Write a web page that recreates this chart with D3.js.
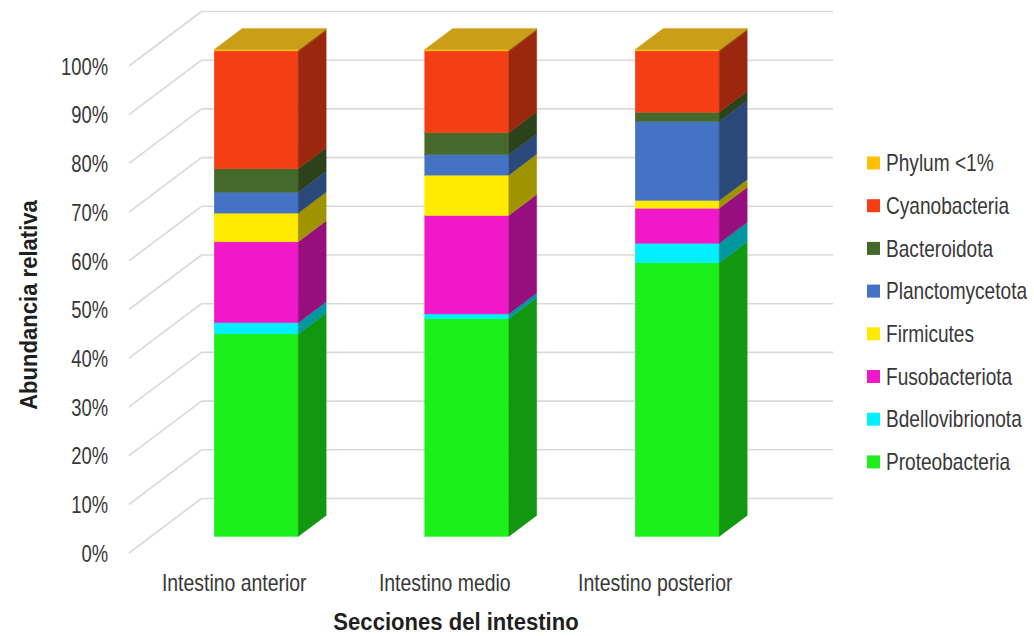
<!DOCTYPE html>
<html>
<head>
<meta charset="utf-8">
<script src="https://cdn.jsdelivr.net/npm/d3@7"></script>
<style>
  body { margin: 0; background: #ffffff; }
  svg { display: block; }
  text { font-family: "Liberation Sans", Arial, Helvetica, sans-serif; }
</style>
</head>
<body>
<svg id="chart" width="1034" height="636"></svg>
<script>
// Relative abundance (%) of bacterial phyla per intestinal section
const categories = ["Intestino anterior", "Intestino medio", "Intestino posterior"];

const proteobacteria   = [41.6, 44.7, 56.2];
const bdellovibrionota = [2.3, 1.0, 4.0];
const fusobacteriota   = [16.6, 20.2, 7.2];
const firmicutes       = [5.9, 8.3, 1.6];
const planctomycetota  = [4.3, 4.2, 16.2];
const bacteroidota     = [4.8, 4.5, 1.9];
const cyanobacteria    = [24.2, 16.8, 12.6];
const phylumMenor1     = [0.3, 0.3, 0.3];

// Stack order, bottom to top
const seriesNames = ["Proteobacteria", "Bdellovibrionota", "Fusobacteriota", "Firmicutes",
                     "Planctomycetota", "Bacteroidota", "Cyanobacteria", "Phylum <1%"];
const seriesValues = [proteobacteria, bdellovibrionota, fusobacteriota, firmicutes,
                      planctomycetota, bacteroidota, cyanobacteria, phylumMenor1];
const seriesColors = ["#1cf01a", "#00f0ff", "#f018c8", "#ffea00",
                      "#4472c4", "#44692a", "#f63e14", "#ffc000"];

const yTicks = [0, 10, 20, 30, 40, 50, 60, 70, 80, 90, 100];
const yTickLabels = yTicks.map(d => d + "%");

const xTitle = "Secciones del intestino";
const yTitle = "Abundancia relativa";

// ---- layout ----
const svg = d3.select("#chart");
const DX = 72.5, DY = -54.5;          // oblique offset of the full floor depth
const barDepth0 = 0.303, barDepth = 0.386; // bar position / thickness along depth
const gridRight = 833;
const textColor = "#383838";
const fontSize = 23;

const x = d3.scaleBand()
  .domain(categories)
  .range([129, gridRight - DX])
  .paddingInner(0.601)
  .paddingOuter(0.3005);

const y = d3.scaleLinear().domain([0, 100]).range([553, 66]);

// table built from the arrays
const table = categories.map((c, i) => {
  const row = { category: c };
  seriesNames.forEach((s, k) => row[s] = seriesValues[k][i]);
  return row;
});
const stacked = d3.stack().keys(seriesNames)(table);
const color = d3.scaleOrdinal().domain(seriesNames).range(seriesColors);

// ---- walls: side-wall diagonals and back-wall lines ----
const grid = svg.append("g").attr("stroke", "#d9d9d9").attr("stroke-width", 1.6).attr("fill", "none");
grid.selectAll("line.back").data(yTicks).join("line")
  .attr("class", "back")
  .attr("x1", x.range()[0] + DX).attr("x2", gridRight)
  .attr("y1", d => y(d) + DY).attr("y2", d => y(d) + DY);
grid.selectAll("line.side").data(yTicks).join("line")
  .attr("class", "side")
  .attr("x1", x.range()[0]).attr("y1", d => y(d))
  .attr("x2", x.range()[0] + DX).attr("y2", d => y(d) + DY);

// ---- y axis labels (condensed) ----
const yAxis = d3.axisLeft(y).tickValues(yTicks).tickFormat((d, i) => yTickLabels[i]).tickSize(0).tickPadding(0);
const yAxisG = svg.append("g").attr("transform", "translate(108,0)").call(yAxis);
yAxisG.select(".domain").remove();
yAxisG.selectAll("text")
  .attr("x", 0).attr("dy", "0.36em")
  .attr("font-size", fontSize).attr("fill", textColor)
  .attr("text-anchor", "end")
  .attr("transform", "scale(0.80,1)");

// ---- x axis labels (condensed) ----
const xAxis = d3.axisBottom(x).tickSize(0).tickPadding(0);
const xAxisG = svg.append("g").attr("transform", "translate(0,591)").call(xAxis);
xAxisG.select(".domain").remove();
xAxisG.selectAll("text")
  .attr("y", 0).attr("dy", 0)
  .attr("font-size", fontSize).attr("fill", textColor)
  .attr("transform", "scale(0.845,1)");

// ---- 3D stacked bars ----
const shadeSide = c => d3.color(c).darker(1.3).formatHex();
const shadeTop = c => d3.interpolateRgb(c, "#505050")(0.3);
const pts = arr => arr.map(p => p.join(",")).join(" ");

const bars = svg.append("g");
categories.forEach((cat, i) => {
  const xl = x(cat) + barDepth0 * DX;
  const xr = xl + x.bandwidth();
  const ox = barDepth * DX, oy = barDepth * DY;
  const g = bars.append("g");
  stacked.forEach((layer, k) => {
    const [v0, v1] = layer[i];
    const c = color(layer.key);
    const yt = y(v1) + barDepth0 * DY;
    const yb = y(v0) + barDepth0 * DY;
    g.append("rect")
      .attr("x", xl).attr("y", yt)
      .attr("width", xr - xl).attr("height", Math.max(0, yb - yt))
      .attr("fill", c).attr("stroke", c).attr("stroke-width", 0.4);
    g.append("polygon")
      .attr("points", pts([[xr, yt], [xr + ox, yt + oy], [xr + ox, yb + oy], [xr, yb]]))
      .attr("fill", shadeSide(c)).attr("stroke", shadeSide(c)).attr("stroke-width", 0.4);
    if (k === stacked.length - 1) {
      g.append("polygon")
        .attr("points", pts([[xl, yt], [xr, yt], [xr + ox, yt + oy], [xl + ox, yt + oy]]))
        .attr("fill", shadeTop(c)).attr("stroke", shadeTop(c)).attr("stroke-width", 0.4);
    }
  });
});

// ---- legend (top series first) ----
const legendItems = seriesNames.slice().reverse();
const legend = svg.append("g").attr("transform", "translate(867,163)");
const li = legend.selectAll("g").data(legendItems).join("g")
  .attr("transform", (d, i) => `translate(0,${i * 42.7})`);
li.append("rect").attr("x", 0).attr("y", -6.5).attr("width", 13).attr("height", 13)
  .attr("fill", d => color(d));
li.append("text")
  .attr("transform", "translate(19,0) scale(0.83,1)")
  .attr("dy", "0.36em").attr("font-size", fontSize).attr("fill", textColor)
  .text(d => d);

// ---- axis titles ----
svg.append("text")
  .attr("transform", "translate(456,630) scale(0.92,1)")
  .attr("text-anchor", "middle").attr("font-size", 24).attr("font-weight", "bold")
  .attr("fill", "#1f1f1f")
  .text(xTitle);
svg.append("text")
  .attr("transform", "translate(37,305) rotate(-90) scale(0.96,1)")
  .attr("text-anchor", "middle").attr("font-size", 23).attr("font-weight", "bold")
  .attr("fill", "#1f1f1f")
  .text(yTitle);
</script>
</body>
</html>
